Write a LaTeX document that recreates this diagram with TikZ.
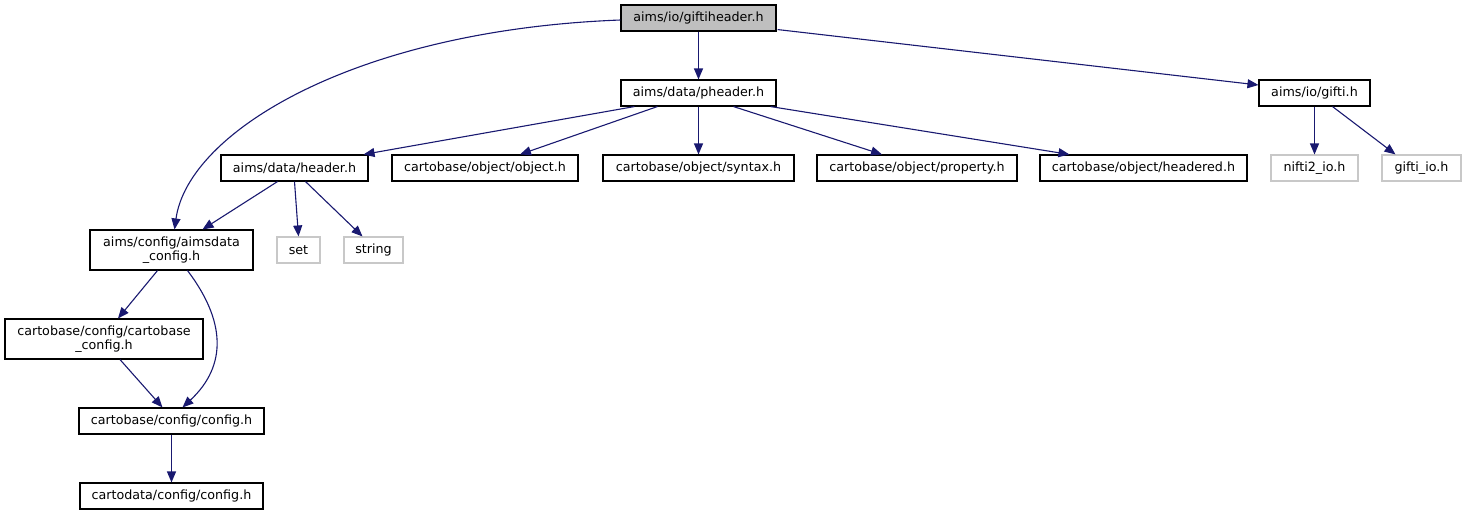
\documentclass[tikz,border=0pt]{standalone}
\usepackage{fontspec}
\setmainfont{DejaVu Sans}
\usetikzlibrary{arrows.meta,calc}
\definecolor{edgec}{HTML}{191970}
\definecolor{greyfill}{HTML}{BFBFBF}
\definecolor{greyline}{HTML}{C8C8C8}
\begin{document}
\begin{tikzpicture}[x=1pt,y=-1pt,
  box/.style={draw=black, line width=1.1pt, inner sep=0pt, fill=white,
    font=\fontsize{12.7}{14.5}\selectfont, align=center, minimum height=26pt},
  ext/.style={box, draw=greyline},
  arr/.style={draw=edgec, line width=1.1pt, -{Triangle[length=11pt,width=9pt]}}]
\useasboundingbox (0,0) rectangle (1466,515);
% nodes
\node[box, fill=greyfill, minimum width=155pt] (gh) at (698.5,18) {aims/io/giftiheader.h};
\node[box, minimum width=155pt] (ph) at (698.5,93) {aims/data/pheader.h};
\node[box, minimum width=111pt] (gi) at (1314.5,93) {aims/io/gifti.h};
\node[box, minimum width=147pt] (hd) at (294.5,168) {aims/data/header.h};
\node[box, minimum width=186pt] (ob) at (485,168) {cartobase/object/object.h};
\node[box, minimum width=191pt] (sy) at (698.5,168) {cartobase/object/syntax.h};
\node[box, minimum width=200pt] (pr) at (917,168) {cartobase/object/property.h};
\node[box, minimum width=207pt] (he) at (1143.5,168) {cartobase/object/headered.h};
\node[ext, minimum width=87pt] (ni) at (1314.5,168) {nifti2\_io.h};
\node[ext, minimum width=79pt] (gio) at (1421.5,168) {gifti\_io.h};
\node[box, minimum width=163pt, minimum height=40pt] (ad) at (171.5,250) {aims/config/aimsdata\\\_config.h};
\node[ext, minimum width=43pt] (st) at (298.5,250) {set};
\node[ext, minimum width=59pt] (sg) at (373.5,250) {string};
\node[box, minimum width=198pt, minimum height=40pt] (cb) at (104,339) {cartobase/config/cartobase\\\_config.h};
\node[box, minimum width=185pt] (cf) at (171.5,421) {cartobase/config/config.h};
\node[box, minimum width=183pt] (cd) at (171.5,496) {cartodata/config/config.h};
% edges
\draw[arr] ($(gh.west)+(0,2)$) .. controls (355,30) and (188,132) .. ($(ad.north)+(3,0)$);
\draw[arr] (gh.south) -- (ph.north);
\draw[arr] ($(gh.south east)+(1,-2)$) -- ($(gi.west)+(0,-8)$);
\draw[arr] ($(ph.south west)+(14,0)$) -- ($(hd.north east)+(-5,0)$);
\draw[arr] ($(ph.south west)+(37,0)$) -- ($(ob.north)+(35,0)$);
\draw[arr] (ph.south) -- (sy.north);
\draw[arr] ($(ph.south)+(35,0)$) -- ($(pr.north)+(-35,0)$);
\draw[arr] ($(ph.south east)+(-6,0)$) -- ($(he.north west)+(30,0)$);
\draw[arr] ($(hd.south)+(-17,0)$) -- ($(ad.north)+(31,0)$);
\draw[arr] (hd.south) -- (st.north);
\draw[arr] ($(hd.south)+(11,0)$) -- ($(sg.north)+(-11,0)$);
\draw[arr] ($(ad.south)+(-14,0)$) -- ($(cb.north)+(14,0)$);
\draw[arr] ($(ad.south)+(16,0)$) .. controls (225,320) and (228,365) .. ($(cf.north)+(11,0)$);
\draw[arr] ($(cb.south)+(16,0)$) -- ($(cf.north)+(-9,0)$);
\draw[arr] (cf.south) -- (cd.north);
\draw[arr] (gi.south) -- (ni.north);
\draw[arr] ($(gi.south)+(18,0)$) -- ($(gio.north)+(-26,0)$);
\end{tikzpicture}
\end{document}
